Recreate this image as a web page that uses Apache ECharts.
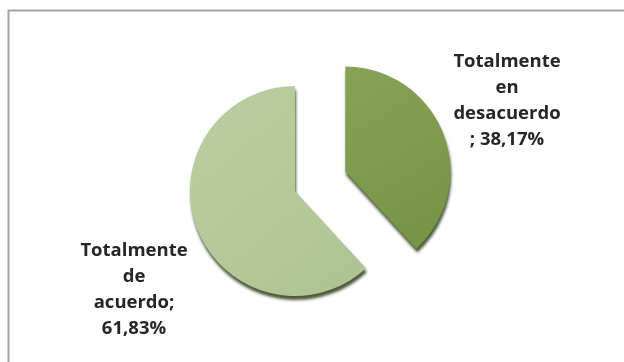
<!DOCTYPE html>
<html>
<head>
<meta charset="utf-8">
<script src="https://cdn.jsdelivr.net/npm/echarts@6/dist/echarts.min.js"></script>
<style>
html,body{margin:0;padding:0;background:#fff;}
#chart{width:624px;height:362px;}
</style>
</head>
<body>
<div id="chart"></div>
<script>
var categories = ['Totalmente en desacuerdo', 'Totalmente de acuerdo'];
var values = [38.17, 61.83];
var labelLines = [['Totalmente', 'en', 'desacuerdo', '; '], ['Totalmente', 'de', 'acuerdo;', '']];

var chart = echarts.init(document.getElementById('chart'), null, {renderer: 'canvas'});
var labelPos = [[507, 101], [134, 290]];
var baseCenter = [295, 191];
var explode = 54;
var radius = 105;

var gradients = [
  [{offset: 0, color: '#87a357'}, {offset: 1, color: '#769245'}],
  [{offset: 0, color: '#bbcea1'}, {offset: 1, color: '#aec393'}]
];

var total = values.reduce(function (a, b) { return a + b; }, 0);
// mid-angle of first slice (clockwise from 12 o'clock)
var midA = (values[0] / total) * Math.PI;
var explodedCenter = [baseCenter[0] + explode * Math.sin(midA), baseCenter[1] - explode * Math.cos(midA)];

function makeSeries(k, center) {
  return {
    type: 'pie',
    center: center,
    radius: radius,
    startAngle: 90,
    clockwise: true,
    silent: true,
    emphasis: {disabled: true},
    labelLine: {show: false},
    label: {
      show: true,
      position: 'outside',
      color: '#262626',
      fontFamily: 'Open Sans',
      fontWeight: 'bold',
      fontSize: 18.5,
      lineHeight: 26,
      align: 'center',
      formatter: function (p) {
        var pct = p.value.toFixed(2).replace('.', ',') + '%';
        var l = labelLines[p.dataIndex].slice();
        l[3] = l[3] + pct;
        return l.join('\n');
      }
    },
    labelLayout: function (params) {
      var pos = labelPos[params.dataIndex];
      return {x: pos[0], y: pos[1], align: 'center', verticalAlign: 'middle'};
    },
    data: categories.map(function (c, i) {
      if (i !== k) {
        return {
          name: c, value: values[i],
          label: {show: false},
          itemStyle: {color: 'rgba(0,0,0,0)', shadowColor: 'rgba(0,0,0,0)', shadowBlur: 0}
        };
      }
      return {
        name: c, value: values[i],
        itemStyle: {
          color: {type: 'linear', x: 0, y: 0, x2: 1, y2: 1, colorStops: gradients[i]},
          shadowBlur: 3,
          shadowOffsetX: 1,
          shadowOffsetY: 4,
          shadowColor: 'rgba(45,60,20,0.85)'
        }
      };
    })
  };
}

chart.setOption({
  animation: false,
  graphic: [{
    type: 'rect',
    shape: {x: 8.5, y: 10.5, width: 700, height: 400},
    style: {fill: null, stroke: '#a3a3a3', lineWidth: 2}
  }],
  series: [makeSeries(1, baseCenter), makeSeries(0, explodedCenter)]
});
</script>
</body>
</html>
